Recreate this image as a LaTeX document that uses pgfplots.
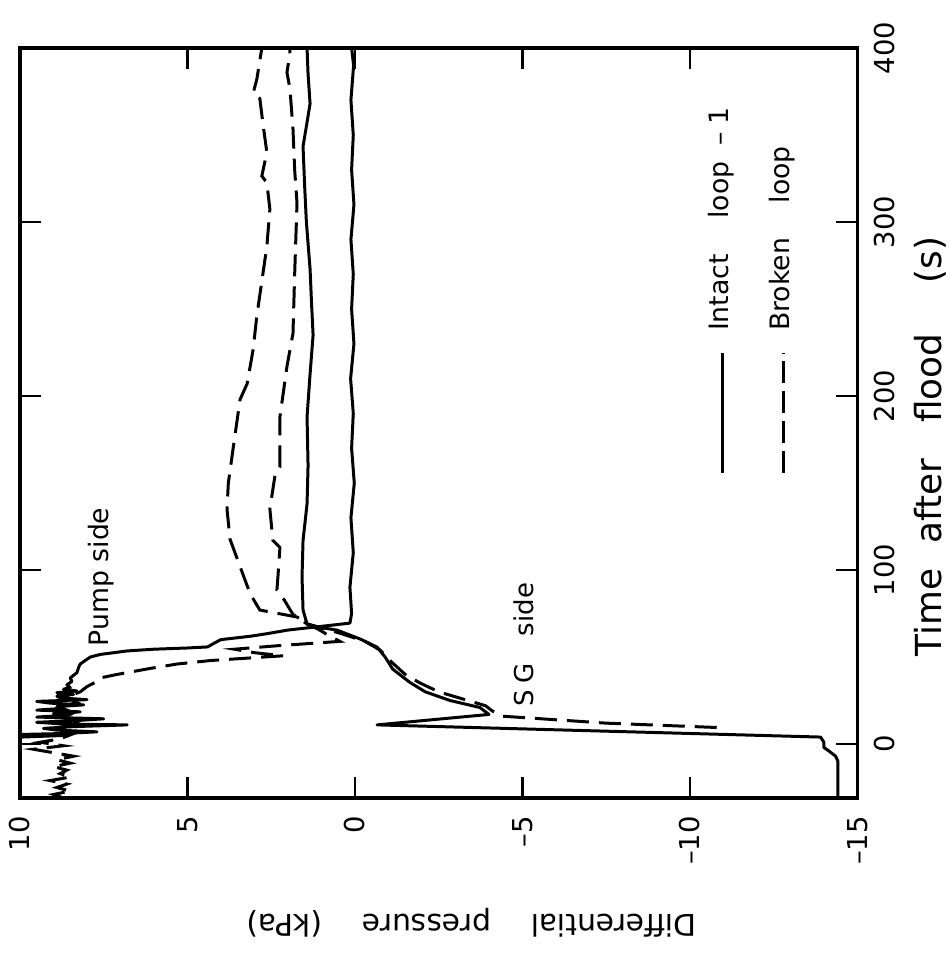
\documentclass[border=0pt]{standalone}
\usepackage{fontspec}
\setmainfont{DejaVu Sans}
\usepackage{pgfplots}
\pgfplotsset{compat=1.18}
\usepackage{pgfplotstable}

% Intact loop-1, pump side (solid)
\pgfplotstableread{
t p
4 9.95
5 8.6
5.5 10
6 8.8
7 7.7
8 8.9
9 9.3
10 8.4
11 6.8
11.5 8.7
12.5 9.5
13.5 8.3
14.5 7.5
15.5 9.5
16.5 8.6
17.5 9.0
18.5 8.2
19.5 9.5
20.5 8.7
21.5 8.9
22.5 8.1
23.5 9.1
24.5 9.5
25.5 8.0
26.5 8.8
27.5 8.9
28.5 8.4
29.5 8.9
30.5 8.3
31.5 8.7
32.5 8.5
34 8.6
36 8.45
38 8.5
41 8.3
44 8.25
46 8.2
48 8.05
50 7.9
51.5 7.6
52.5 7.2
53.5 6.8
54.5 6.0
55.2 5.0
55.8 4.4
58 4.2
60 4.0
62 3.1
63.5 2.6
65.5 2.0
67 1.3
68.5 0.6
69.5 0.15
75 0.1
90 0.15
110 0.05
130 0.12
150 0.02
170 0.1
190 0.05
210 0.13
230 0.03
250 0.1
270 0.05
290 0.12
310 0.03
330 0.1
350 0.05
370 0.12
390 0.04
400 0.1
}\intactpump

% Broken loop, pump side (dashed)
\pgfplotstableread{
t p
-31 8.7
-29 9.0
-27 8.5
-25 8.9
-23 8.6
-21 9.1
-19 8.5
-17 8.8
-15 8.6
-13 9.0
-11 8.5
-9 8.9
-7 8.4
-5 9.0
-3 9.6
-1 8.7
1 9.4
3 8.8
6 8.4
9 8.9
12 8.3
15 8.7
18 8.4
21 8.8
24 8.3
27 8.6
30 8.2
33 8.0
36 7.7
38 7.6
40 7.1
43.5 6.1
46 5.3
48 4.3
50.7 2.15
52.5 3.0
54.5 3.6
56.5 2.3
59 0.45
62 0.75
66 1.1
69 1.43
73 1.73
77 2.84
86.4 3.13
102 3.43
117.7 3.73
135 3.82
150 3.78
169.5 3.64
198 3.43
207 3.22
226.7 3.04
246 2.93
266 2.78
286 2.63
307.5 2.54
322.5 2.63
326.5 2.78
340 2.63
357 2.75
371 2.84
374 3.04
382 2.93
400 2.78
}\brokenpump

% Intact loop-1, SG side (solid)
\pgfplotstableread{
t p
-31 -14.42
-10 -14.42
-7 -14.35
-4 -14.15
-2 -14.0
1 -14.0
4 -13.9
11 -0.66
17 -4.0
21 -3.73
25 -2.84
30 -2.1
35.4 -1.64
43 -1.13
50 -0.9
55.7 -0.66
60.4 -0.15
65.5 0.54
67 1.04
69 1.43
77 1.55
96 1.58
117 1.55
138 1.43
160 1.4
188 1.43
210 1.35
235 1.25
255 1.3
273 1.34
300 1.45
320 1.5
343.5 1.55
355 1.45
368 1.34
385 1.4
400 1.43
}\intactsg

% Broken loop, SG side (dashed)
\pgfplotstableread{
t p
9.5 -10.8
12 -7.5
16 -4.4
19 -4.1
22 -3.9
26 -3.2
30 -2.5
35 -1.95
40 -1.5
47 -1.1
54 -0.75
59 -0.3
64 0.5
69 1.43
74.5 1.85
84 2.15
88.5 2.33
96 2.3
113 2.24
117 2.45
135 2.54
154 2.39
159 2.24
188 2.24
217 2.03
236 1.85
270 1.8
311 1.73
330 1.8
353.5 1.85
376.5 1.94
386 2.03
397 1.94
400 1.95
}\brokensg

\begin{document}
\begin{tikzpicture}
\begin{axis}[
  scale only axis, width=8.375cm, height=7.5cm,
  xmin=-15, xmax=10, x dir=reverse,
  ymin=-31, ymax=400,
  xtick={-15,-10,-5,0,5,10},
  xticklabels={--15,--10,--5,0,5,10},
  ytick={0,100,200,300,400},
  xtick pos=both, ytick pos=both,
  xticklabel pos=bottom, yticklabel pos=right,
  tick align=inside, major tick length=0.21cm,
  /pgf/number format/assume math mode=true,
  xticklabel style={rotate=90, anchor=east, font=\fontsize{7.8}{9}\selectfont},
  yticklabel style={rotate=90, anchor=north, font=\fontsize{7.8}{9}\selectfont},
  xticklabel shift=0.06cm, yticklabel shift=0.04cm,
  axis line style={line width=0.9pt},
  tick style={line width=0.7pt, black},
  clip mode=individual,
]
\addplot[black, line width=0.85pt, line join=round] table[x=p, y=t] {\intactpump};
\addplot[black, line width=0.85pt, dash pattern=on 0.22cm off 0.1cm] table[x=p, y=t] {\brokenpump};
\addplot[black, line width=0.85pt, line join=round] table[x=p, y=t] {\intactsg};
\addplot[black, line width=0.85pt, dash pattern=on 0.22cm off 0.1cm] table[x=p, y=t] {\brokensg};

% annotations
\node[rotate=90, anchor=base, inner sep=0pt, font=\fontsize{7.6}{9}\selectfont] at (axis cs:7.37,96) {Pump side};
\node[rotate=90, anchor=base, inner sep=0pt, font=\fontsize{7.4}{9}\selectfont] at (axis cs:-5.34,57) {S\hspace{0.25em}G\hspace{1.05em}side};

% legend
\draw[line width=0.85pt] (axis cs:-10.96,156) -- (axis cs:-10.96,225);
\draw[line width=0.85pt, dash pattern=on 0.22cm off 0.08cm] (axis cs:-12.78,156) -- (axis cs:-12.78,225);
\node[rotate=90, anchor=base west, inner sep=0pt, font=\fontsize{7.6}{9}\selectfont] at (axis cs:-11.16,237) {Intact\hspace{1.33em}loop\hspace{0.6em}\textendash\hspace{0.3em}1};
\node[rotate=90, anchor=base west, inner sep=0pt, font=\fontsize{7.6}{9}\selectfont] at (axis cs:-12.96,237) {Broken\hspace{1.3em}loop};

% axis labels
\node[rotate=180, anchor=base, inner sep=0pt, font=\fontsize{8.5}{10}\selectfont] at (axis cs:-3.49,-98.2) {Differential\hspace{1.33em}pressure\hspace{1.33em}(kPa)};
\node[rotate=90, anchor=base, inner sep=0pt, font=\fontsize{10.2}{12}\selectfont] at (axis cs:-17.5,171) {Time\hspace{0.7em}after\hspace{1em}flood\hspace{1.4em}(s)};

\coordinate (bbA) at (axis cs:10.597,-122.4);
\coordinate (bbB) at (axis cs:-17.76,427.6);
\end{axis}
\pgfresetboundingbox
\path[use as bounding box] (bbA) rectangle (bbB);
\end{tikzpicture}
\end{document}
